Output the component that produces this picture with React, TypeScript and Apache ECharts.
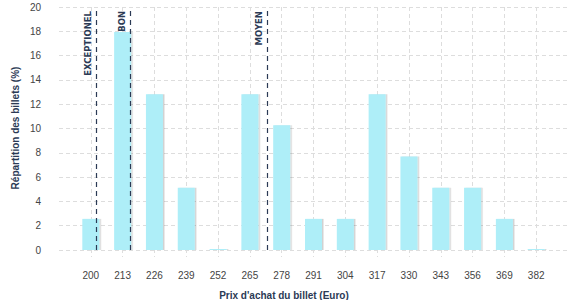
import React, { useEffect, useRef } from "react";
import * as echarts from "echarts";

const categories = ["", "200", "213", "226", "239", "252", "265", "278", "291", "304", "317", "330", "343", "356", "369", "382", ""];
const shares = [null, 2.56, 17.95, 12.82, 5.13, 0, 12.82, 10.26, 2.56, 2.56, 12.82, 7.69, 5.13, 5.13, 2.56, 0, null];
const thresholds = [
  { name: "EXCEPTIONEL", value: 202.3 },
  { name: "BON", value: 216.3 },
  { name: "MOYEN", value: 272.3 },
];
const euroMin = 187;
const euroMax = 395;
const yTicks = { min: 0, max: 20, interval: 2 };

const GRID = "#dddddd";
const NAVY = "#2b3a55";
const FONT = "'Liberation Sans', Arial, sans-serif";

export default function App() {
  const ref = useRef<HTMLDivElement>(null);
  useEffect(() => {
    if (!ref.current) return;
    const chart = echarts.init(ref.current, null, { renderer: "svg" });
    chart.setOption({
      animation: false,
      grid: { left: 59, right: 9, top: 7, bottom: 50 },
      xAxis: [
        {
          type: "category",
          data: categories,
          boundaryGap: false,
          axisLine: { show: false },
          axisTick: {
            show: true,
            length: 7,
            interval: (i: number, v: string) => v !== "",
            lineStyle: { color: GRID, type: [3, 3] },
          },
          splitLine: {
            show: true,
            interval: (i: number, v: string) => v !== "",
            lineStyle: { color: GRID, type: [4, 3], width: 1 },
          },
          axisLabel: {
            interval: 0,
            margin: 20,
            color: "#444",
            fontSize: 10,
            fontFamily: FONT,
          },
        },
        { type: "value", min: euroMin, max: euroMax, show: false },
      ],
      yAxis: {
        type: "value",
        min: yTicks.min,
        max: yTicks.max,
        interval: yTicks.interval,
        axisLine: { show: false },
        axisTick: { show: false },
        splitLine: { lineStyle: { color: GRID, type: [4, 3], width: 1 } },
        axisLabel: { margin: 18, color: "#444", fontSize: 10, fontFamily: FONT },
      },
      series: [
        {
          type: "bar",
          data: shares,
          barWidth: 17,
          barMinHeight: 1,
          itemStyle: {
            color: "#aeeef8",
            shadowColor: "rgba(0,0,0,0.18)",
            shadowOffsetX: 1.5,
            shadowOffsetY: 0,
            shadowBlur: 0,
          },
        },
        {
          type: "line",
          xAxisIndex: 1,
          data: [],
          markLine: {
            silent: true,
            symbol: "none",
            lineStyle: { color: NAVY, type: [5, 4], width: 1.2 },
            label: {
              show: true,
              formatter: "{b}",
              position: "insideEndTop",
              distance: 4,
              color: NAVY,
              fontSize: 8.5,
              fontWeight: "bold",
              fontFamily: "'DejaVu Sans', sans-serif",
            },
            data: thresholds.map((t) => ({ name: t.name, xAxis: t.value })),
          },
        },
      ],
      graphic: [
        {
          type: "text",
          x: 284,
          y: 295,
          style: {
            text: "Prix d'achat du billet (Euro)",
            align: "center",
            verticalAlign: "middle",
            fill: NAVY,
            font: `bold 10px ${FONT}`,
          },
        },
        {
          type: "text",
          x: 15,
          y: 128,
          rotation: Math.PI / 2,
          style: {
            text: "Répartition des billets (%)",
            align: "center",
            verticalAlign: "middle",
            fill: NAVY,
            font: `bold 10px ${FONT}`,
          },
        },
      ],
    });
    return () => chart.dispose();
  }, []);
  return <div ref={ref} style={{ width: 577, height: 300, position: "absolute", left: 0, top: 0 }} />;
}
